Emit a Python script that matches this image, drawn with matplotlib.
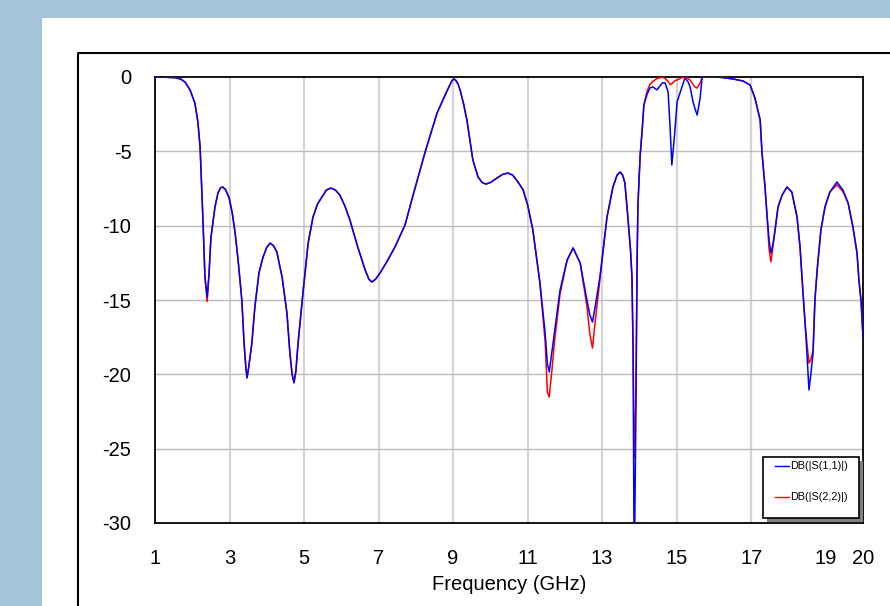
import matplotlib
matplotlib.use("Agg")
import matplotlib.pyplot as plt
from matplotlib.patches import Rectangle
from matplotlib.lines import Line2D

plt.rcParams['font.family'] = ['Liberation Sans', 'DejaVu Sans']

# Return loss of the two ports, frequency in GHz, magnitude in dB
freq = [1.00, 1.30, 1.56, 1.70, 1.81, 1.94, 2.07, 2.15, 2.21, 2.29, 2.34, 2.40, 2.45,
        2.50, 2.61, 2.69, 2.76, 2.82, 2.90, 2.99, 3.07, 3.15, 3.23, 3.33, 3.39, 3.44,
        3.47, 3.51, 3.60, 3.68, 3.79, 3.90, 4.00, 4.09, 4.18, 4.27, 4.41, 4.54, 4.62,
        4.68, 4.73, 4.78, 4.84, 4.97, 5.11, 5.24, 5.36, 5.48, 5.60, 5.72, 5.84, 5.96,
        6.10, 6.23, 6.44, 6.64, 6.74, 6.82, 6.92, 7.04, 7.25, 7.44, 7.71, 7.92, 8.25,
        8.57, 8.78, 8.90, 8.97, 9.02, 9.07, 9.13, 9.19, 9.28, 9.37, 9.53, 9.67, 9.78,
        9.88, 10.00,
        10.18, 10.33, 10.47, 10.60, 10.74, 10.88, 11.00, 11.14, 11.33, 11.47, 11.53,
        11.58, 11.66, 11.73, 11.87, 12.06, 12.22, 12.41, 12.59, 12.67, 12.74, 12.81,
        12.94, 13.13, 13.29, 13.40, 13.48, 13.55, 13.61, 13.69, 13.76, 13.80, 13.83,
        13.86, 13.90, 13.94, 13.96, 14.02, 14.07, 14.12, 14.20, 14.28, 14.36, 14.47,
        14.55, 14.61, 14.69, 14.77, 14.82, 14.87, 14.95, 15.01, 15.14, 15.22, 15.30,
        15.36, 15.44, 15.50, 15.55, 15.63, 15.68, 15.71, 15.90, 16.16, 16.51, 16.78,
        16.97, 17.10, 17.24, 17.29, 17.37, 17.42, 17.48, 17.53, 17.58, 17.64, 17.72,
        17.83, 17.96, 18.09, 18.23, 18.31, 18.39, 18.47, 18.55, 18.60, 18.66, 18.71,
        18.77, 18.87, 18.98, 19.11, 19.30, 19.46, 19.60, 19.73, 19.84, 19.89, 19.95,
        20.00]

s11 = [0.0, -0.02, -0.05, -0.15, -0.35, -0.87, -1.75, -3.0, -4.71, -9.82, -13.45, -14.8, -13.2,
       -10.83, -8.74, -7.80, -7.45, -7.40, -7.6, -8.14, -9.1, -10.49, -12.31, -15.0, -17.89, -19.6,
       -20.25, -19.6, -17.89, -15.47, -13.18, -12.11, -11.45, -11.17, -11.35, -11.77, -13.45, -15.87, -18.56,
       -20.0, -20.58, -19.8, -17.89, -14.53, -11.17, -9.42, -8.55, -8.07, -7.6, -7.47, -7.6, -7.94,
       -8.7, -9.62, -11.43, -12.98, -13.6, -13.79, -13.6, -13.18, -12.3, -11.43, -9.95, -8.0, -5.04,
       -2.42, -1.25, -0.6, -0.25, -0.13, -0.22, -0.45, -0.9, -1.8, -2.89, -5.58, -6.73, -7.1,
       -7.20, -7.1,
       -6.79, -6.55, -6.46, -6.6, -7.06, -7.60, -8.6, -10.29, -13.86, -17.22, -19.3,
       -19.84, -18.3, -17.0, -14.33, -12.31, -11.50, -12.51, -15.0, -16.0, -16.48, -15.5,
       -13.45, -9.42, -7.40, -6.6, -6.39, -6.6, -7.13, -9.42, -11.6, -13.45, -18.36,
       -34.0, -24.0, -11.97, -8.61, -5.25, -3.70, -1.88, -1.21, -0.74, -0.67, -0.87,
       -0.6, -0.40, -0.40, -1.01, -3.23, -5.92, -3.70, -1.68, -0.67, -0.07, -0.3,
       -0.67, -1.68, -2.2, -2.56, -1.41, -0.07, 0.0, 0.0, -0.02, -0.13, -0.27,
       -0.54, -1.41, -2.89, -5.11, -7.40, -9.15, -11.0, -11.84, -11.3, -10.29, -8.74,
       -7.94, -7.40, -7.74, -9.42, -11.43, -14.53, -17.49, -21.05, -20.0, -18.56, -15.0,
       -12.98, -10.29, -8.74, -7.74, -7.06, -7.60, -8.47, -10.09, -11.84, -13.65, -15.13,
       -17.49]

s22 = [0.0, -0.02, -0.05, -0.15, -0.35, -0.87, -1.75, -3.0, -4.71, -9.82, -13.45, -15.1, -13.3,
       -10.83, -8.74, -7.80, -7.45, -7.40, -7.6, -8.14, -9.1, -10.49, -12.31, -15.0, -17.89, -19.6,
       -20.2, -19.6, -17.89, -15.47, -13.18, -12.11, -11.45, -11.17, -11.35, -11.77, -13.45, -15.87, -18.56,
       -20.0, -20.5, -19.8, -17.89, -14.53, -11.17, -9.42, -8.55, -8.07, -7.6, -7.47, -7.6, -7.94,
       -8.7, -9.62, -11.43, -12.98, -13.6, -13.79, -13.6, -13.18, -12.3, -11.43, -9.95, -8.0, -5.04,
       -2.42, -1.25, -0.6, -0.25, -0.13, -0.22, -0.45, -0.9, -1.8, -2.89, -5.58, -6.73, -7.1,
       -7.20, -7.1,
       -6.79, -6.55, -6.46, -6.6, -7.06, -7.60, -8.6, -10.29, -13.86, -17.8, -21.2,
       -21.52, -19.5, -17.6, -14.6, -12.31, -11.50, -12.51, -15.4, -17.3, -18.23, -16.5,
       -13.6, -9.42, -7.40, -6.6, -6.39, -6.6, -7.13, -9.42, -11.6, -13.45, -18.36,
       -25.6, -22.0, -11.97, -8.61, -5.25, -3.70, -1.88, -1.0, -0.5, -0.3, -0.1,
       -0.05, 0.0, -0.1, -0.3, -0.5, -0.45, -0.25, -0.2, -0.05, 0.0, -0.1,
       -0.2, -0.5, -0.7, -0.74, -0.4, -0.05, 0.0, 0.0, -0.02, -0.13, -0.27,
       -0.54, -1.41, -2.89, -5.11, -7.40, -9.15, -11.6, -12.44, -11.5, -10.29, -8.74,
       -7.94, -7.40, -7.74, -9.42, -11.43, -14.53, -17.3, -19.24, -19.0, -18.4, -15.0,
       -12.98, -10.29, -8.74, -7.74, -7.25, -7.7, -8.47, -10.09, -11.84, -13.65, -15.13,
       -17.49]

xticks = [1, 3, 5, 7, 9, 11, 13, 15, 17, 19, 20]
yticks = [0, -5, -10, -15, -20, -25, -30]
names = ['DB(|S(1,1)|)', 'DB(|S(2,2)|)']
colors = ['#0000ff', '#ff0000']

W, H = 890, 606


def fx(x):
    return x / W


def fy(y):
    return 1 - y / H


fig = plt.figure(figsize=(W / 100, H / 100), dpi=100, facecolor='#a6c4d8')

# white panel and the frame around the chart
fig.patches.append(Rectangle((fx(42), 0), 1, fy(18), transform=fig.transFigure,
                             facecolor='white', edgecolor='none', zorder=-2))
fig.lines.append(Line2D([fx(78), fx(78), 1.0], [0, fy(53), fy(53)],
                        transform=fig.transFigure, color='black', lw=1.5, zorder=-1))

ax = fig.add_axes([fx(155), fy(523), fx(863) - fx(155), fy(77) - fy(523)])
ax.set_facecolor('white')

ax.plot(freq, s22, color=colors[1], lw=1.1, zorder=3)
ax.plot(freq, s11, color=colors[0], lw=1.1, zorder=4)

ax.set_xlim(1, 20)
ax.set_ylim(-30, 0)
ax.set_xticks(xticks)
ax.set_yticks(yticks)
ax.set_xticklabels([str(t) for t in xticks])
ax.set_yticklabels([str(t) for t in yticks])
ax.tick_params(length=0, labelsize=14.5)
ax.tick_params(axis='x', pad=19)
ax.tick_params(axis='y', pad=17)

for v in xticks[1:-2]:
    ax.axvline(v, color='#d4d4d4', lw=1.6, zorder=1)
for v in yticks[1:-1]:
    ax.axhline(v, color='#bcbcbc', lw=1.0, zorder=1)

for s in ax.spines.values():
    s.set_color('black')
    s.set_linewidth(1.3)

ax.set_xlabel('Frequency (GHz)', fontsize=14.5, labelpad=4.5)

# legend box with drop shadow
fig.patches.append(Rectangle((fx(767), fy(522)), fx(96), fy(0) - fy(61),
                             transform=fig.transFigure, facecolor='#808080',
                             edgecolor='none', zorder=5))
fig.patches.append(Rectangle((fx(763), fy(518)), fx(96), fy(0) - fy(61),
                             transform=fig.transFigure, facecolor='white',
                             edgecolor='black', lw=1.2, zorder=6))
for i, (name, c) in enumerate(zip(names, colors)):
    yy = 466 + 31 * i
    fig.lines.append(Line2D([fx(775), fx(789)], [fy(yy), fy(yy)],
                            transform=fig.transFigure, color=c, lw=1.0, zorder=7))
    fig.text(fx(790), fy(yy), name, fontsize=7.8, va='center', ha='left', zorder=7)

fig.savefig('out.png', dpi=100, facecolor=fig.get_facecolor())
